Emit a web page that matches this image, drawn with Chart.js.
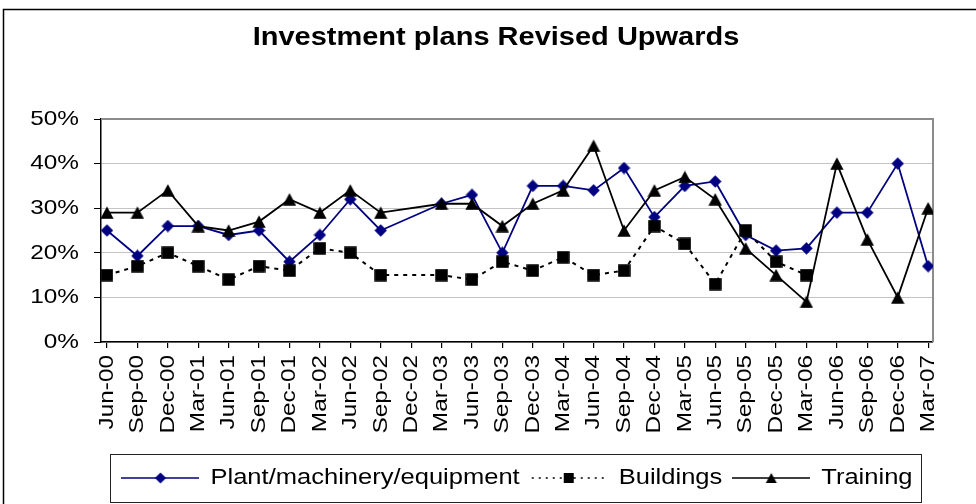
<!DOCTYPE html>
<html><head><meta charset="utf-8">
<script src="https://cdn.jsdelivr.net/npm/chart.js@4/dist/chart.umd.min.js"></script>
<style>html,body{margin:0;padding:0;background:#fff;overflow:hidden}canvas{display:block}</style>
</head><body>
<canvas id="c" width="976" height="504"></canvas>
<script>
const categories = ['Jun-00','Sep-00','Dec-00','Mar-01','Jun-01','Sep-01','Dec-01','Mar-02','Jun-02','Sep-02','Dec-02','Mar-03','Jun-03','Sep-03','Dec-03','Mar-04','Jun-04','Sep-04','Dec-04','Mar-05','Jun-05','Sep-05','Dec-05','Mar-06','Jun-06','Sep-06','Dec-06','Mar-07'];
const plant = [25,19.3,26,26,24,25,18,24,32,25,null,31,33,20,35,35,34,39,28,35,36,24,20.5,21,29,29,40,17];
const buildings = [15,17,20,17,14,17,16,21,20,15,null,15,14,18,16,19,15,16,26,22,13,25,18,15,null,null,null,null];
const training = [29,29,34,26,25,27,32,29,34,29,null,31,31,26,31,34,44,25,34,37,32,21,15,9,40,23,10,30];
const seriesNames = ['Plant/machinery/equipment','Buildings','Training'];
const chartTitle = 'Investment plans Revised Upwards';

const FONT = "'Liberation Sans', Arial, sans-serif";
const NAVY = '#000080';
const SX = 1.16;

const canvas = document.getElementById('c');
const ctx = canvas.getContext('2d');
// widen text horizontally (reference uses wide-rendered Arial)
const nativeFill = ctx.fillText.bind(ctx);
const nativeMeasure = ctx.measureText.bind(ctx);
ctx.fillText = function(t, x, y) {
  this.save(); this.translate(x, y); this.scale(SX, 1); nativeFill(t, 0, 0); this.restore();
};
ctx.measureText = function(t) {
  const m = nativeMeasure(t);
  return {width: m.width * SX, actualBoundingBoxAscent: m.actualBoundingBoxAscent,
    actualBoundingBoxDescent: m.actualBoundingBoxDescent,
    actualBoundingBoxLeft: m.actualBoundingBoxLeft * SX, actualBoundingBoxRight: m.actualBoundingBoxRight * SX,
    fontBoundingBoxAscent: m.fontBoundingBoxAscent, fontBoundingBoxDescent: m.fontBoundingBoxDescent};
};

function mk(w, h, fn) {
  const c = document.createElement('canvas'); c.width = w; c.height = h;
  fn(c.getContext('2d'), w, h); return c;
}
function diamond(g, cx, cy, r, col) {
  g.fillStyle = col; g.beginPath();
  g.moveTo(cx, cy - r); g.lineTo(cx + r, cy); g.lineTo(cx, cy + r); g.lineTo(cx - r, cy); g.closePath(); g.fill();
}
function square(g, cx, cy, s, col) { g.fillStyle = col; g.fillRect(cx - s / 2, cy - s / 2, s, s); }
function tri(g, cx, cy, w, h, col) {
  g.fillStyle = col; g.beginPath();
  g.moveTo(cx, cy - h / 2); g.lineTo(cx + w / 2, cy + h / 2); g.lineTo(cx - w / 2, cy + h / 2); g.closePath(); g.fill();
}
const ptDiamond = mk(13, 13, g => diamond(g, 6.5, 6.5, 6.2, NAVY));
const ptSquare = mk(13, 13, g => square(g, 6.5, 6.5, 12.5, '#000'));
const ptTri = mk(14, 13, g => tri(g, 7, 6.5, 13.4, 12.4, '#000'));

const KW = 78, KH = 16;
const keyImgs = [
  mk(KW, KH, (g, w, h) => { g.strokeStyle = NAVY; g.lineWidth = 1.6; g.beginPath(); g.moveTo(0, h / 2); g.lineTo(w, h / 2); g.stroke(); diamond(g, w / 2, h / 2, 5.6, NAVY); }),
  mk(KW, KH, (g, w, h) => { g.strokeStyle = '#000'; g.lineWidth = 1.5; g.setLineDash([2, 5]); g.beginPath(); g.moveTo(2, h / 2); g.lineTo(w, h / 2); g.stroke(); square(g, w / 2, h / 2, 10, '#000'); }),
  mk(KW, KH, (g, w, h) => { g.strokeStyle = '#000'; g.lineWidth = 1.6; g.beginPath(); g.moveTo(0, h / 2); g.lineTo(w, h / 2); g.stroke(); tri(g, w / 2, h / 2, 11, 10, '#000'); })
];

const toXY = arr => arr.map((v, i) => ({x: i, y: v}));

const decor = {
  id: 'decor',
  beforeDraw(chart) {
    const g = chart.ctx;
    g.save();
    g.fillStyle = '#fff'; g.fillRect(0, 0, chart.width, chart.height);
    g.strokeStyle = '#000'; g.lineWidth = 1.5;
    g.beginPath(); g.moveTo(3.5, chart.height); g.lineTo(3.5, 9.5); g.lineTo(chart.width, 9.5); g.stroke();
    g.restore();
  },
  beforeDatasetsDraw(chart) {
    const a = chart.chartArea, g = chart.ctx;
    g.save(); g.strokeStyle = '#8c8c8c'; g.lineWidth = 2;
    g.beginPath(); g.moveTo(a.left, a.top); g.lineTo(a.right, a.top); g.lineTo(a.right, a.bottom); g.stroke();
    g.restore();
  },
  afterDraw(chart) {
    const hb = chart.legend.legendHitBoxes; if (!hb || !hb.length) return;
    const l = Math.min(...hb.map(h => h.left)) - 11;
    const r = Math.max(...hb.map(h => h.left + h.width)) + 9;
    const t = hb[0].top - 13, b = hb[0].top + hb[0].height + 13;
    const g = chart.ctx; g.save(); g.strokeStyle = '#222'; g.lineWidth = 1;
    g.strokeRect(Math.round(l) + 0.5, Math.round(t) + 0.5, Math.round(r - l), Math.round(b - t)); g.restore();
  }
};

Chart.defaults.color = '#000';
new Chart(ctx, {
  type: 'line',
  data: {
    datasets: [
      {label: seriesNames[0], data: toXY(plant), borderColor: NAVY, backgroundColor: NAVY, borderWidth: 1.8,
       pointStyle: ptDiamond, pointRadius: 6, spanGaps: true, order: 3},
      {label: seriesNames[1], data: toXY(buildings), borderColor: '#000', backgroundColor: '#000', borderWidth: 2,
       borderDash: [4, 5], pointStyle: ptSquare, pointRadius: 6, spanGaps: true, order: 2},
      {label: seriesNames[2], data: toXY(training), borderColor: '#000', backgroundColor: '#000', borderWidth: 1.8,
       pointStyle: ptTri, pointRadius: 6, spanGaps: true, order: 1}
    ]
  },
  options: {
    responsive: false, animation: false, devicePixelRatio: 1,
    layout: {padding: {left: 16, right: 0, top: 0, bottom: 5}},
    plugins: {
      title: {display: true, text: chartTitle, color: '#000',
        font: {family: FONT, size: 25, weight: 'bold', lineHeight: 1.2}, padding: {top: 23, bottom: 66}},
      legend: {position: 'bottom', fullSize: false,
        labels: {usePointStyle: true, pointStyleWidth: KW, padding: 10, color: '#000', font: {family: FONT, size: 22},
          generateLabels: chart => {
            const items = Chart.defaults.plugins.legend.labels.generateLabels(chart);
            items.sort((a, b) => a.datasetIndex - b.datasetIndex);
            items.forEach(it => { it.pointStyle = keyImgs[it.datasetIndex]; });
            return items;
          }}},
      tooltip: {enabled: false}
    },
    scales: {
      x: {type: 'linear', min: -0.197, max: 27.16, afterFit: s => { s.height = 115; },
        ticks: {stepSize: 1, autoSkip: false, includeBounds: false, maxTicksLimit: 100, maxRotation: 90, minRotation: 90,
          padding: 7, color: '#000', font: {family: FONT, size: 21}, callback: v => categories[v] ?? ''},
        grid: {drawOnChartArea: false, tickLength: 6, tickColor: '#000', lineWidth: 1.2},
        border: {color: '#000', width: 1.5}},
      y: {min: 0, max: 50, afterFit: s => { s.width = 85; },
        ticks: {stepSize: 10, padding: 15, color: '#000', font: {family: FONT, size: 21}, callback: v => v + '%'},
        grid: {color: '#c4c4c4', lineWidth: 1, tickLength: 7, tickColor: '#000'},
        border: {color: '#000', width: 1.5}},
      yPad: {position: 'right', display: true, min: 0, max: 1, afterFit: s => { s.width = 43; },
        ticks: {display: false}, grid: {display: false, drawTicks: false}, border: {display: false}}
    }
  },
  plugins: [decor]
});
</script>
</body></html>
